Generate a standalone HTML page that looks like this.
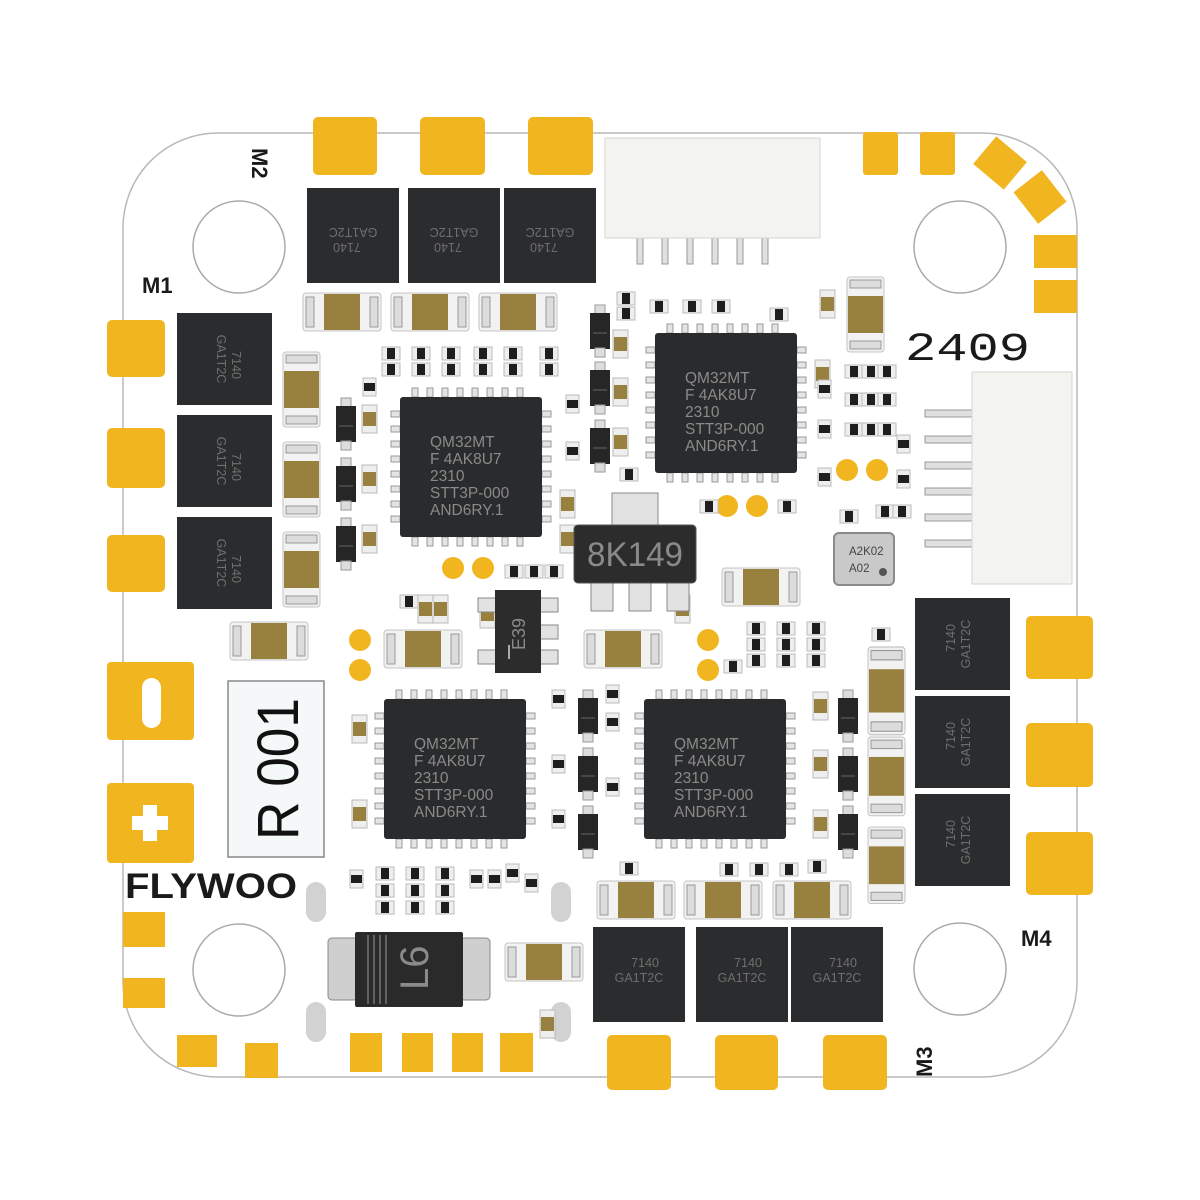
<!DOCTYPE html>
<html><head><meta charset="utf-8"><style>html,body{margin:0;padding:0;background:#fff}svg{display:block}</style></head>
<body>
<svg width="1200" height="1200" viewBox="0 0 1200 1200" xmlns="http://www.w3.org/2000/svg" font-family="Liberation Sans, sans-serif">
<defs>
<g id="capH"><rect x="0" y="0" width="78" height="38" rx="3" fill="#f2f2f2" stroke="#c4c4c4"/><rect x="3" y="4" width="8" height="30" fill="#dcdcdc" stroke="#9a9a9a"/><rect x="67" y="4" width="8" height="30" fill="#dcdcdc" stroke="#9a9a9a"/><rect x="21" y="1" width="36" height="36" fill="#98803f"/></g>
<g id="capV"><rect x="0" y="0" width="37" height="75" rx="3" fill="#f2f2f2" stroke="#c4c4c4"/><rect x="3" y="3" width="31" height="8" fill="#dcdcdc" stroke="#9a9a9a"/><rect x="3" y="64" width="31" height="8" fill="#dcdcdc" stroke="#9a9a9a"/><rect x="1" y="19" width="35" height="37" fill="#98803f"/></g>
<g id="r"><rect x="0" y="0" width="18" height="13" fill="#eee" stroke="#bbb"/><rect x="5" y="1" width="8" height="11" fill="#1e1e1e"/></g>
<g id="rv"><rect x="0" y="0" width="13" height="18" fill="#eee" stroke="#bbb"/><rect x="1" y="5" width="11" height="8" fill="#1e1e1e"/></g>
<g id="sc"><rect x="0" y="0" width="15" height="28" fill="#eee" stroke="#bbb"/><rect x="1" y="7" width="13" height="14" fill="#98803f"/></g>
<g id="d"><rect x="5" y="0" width="10" height="9" fill="#ddd" stroke="#999"/><rect x="0" y="8" width="20" height="36" fill="#262626"/><rect x="5" y="43" width="10" height="9" fill="#ddd" stroke="#999"/><line x1="3" y1="28" x2="17" y2="28" stroke="#666"/></g>
<g id="mcu">
<g fill="#e4e4e4" stroke="#999" stroke-width="1">
<rect x="12" y="-9" width="6" height="9"/><rect x="27" y="-9" width="6" height="9"/><rect x="42" y="-9" width="6" height="9"/><rect x="57" y="-9" width="6" height="9"/><rect x="72" y="-9" width="6" height="9"/><rect x="87" y="-9" width="6" height="9"/><rect x="102" y="-9" width="6" height="9"/><rect x="117" y="-9" width="6" height="9"/>
<rect x="12" y="140" width="6" height="9"/><rect x="27" y="140" width="6" height="9"/><rect x="42" y="140" width="6" height="9"/><rect x="57" y="140" width="6" height="9"/><rect x="72" y="140" width="6" height="9"/><rect x="87" y="140" width="6" height="9"/><rect x="102" y="140" width="6" height="9"/><rect x="117" y="140" width="6" height="9"/>
<rect x="-9" y="14" width="9" height="6"/><rect x="-9" y="29" width="9" height="6"/><rect x="-9" y="44" width="9" height="6"/><rect x="-9" y="59" width="9" height="6"/><rect x="-9" y="74" width="9" height="6"/><rect x="-9" y="89" width="9" height="6"/><rect x="-9" y="104" width="9" height="6"/><rect x="-9" y="119" width="9" height="6"/>
<rect x="142" y="14" width="9" height="6"/><rect x="142" y="29" width="9" height="6"/><rect x="142" y="44" width="9" height="6"/><rect x="142" y="59" width="9" height="6"/><rect x="142" y="74" width="9" height="6"/><rect x="142" y="89" width="9" height="6"/><rect x="142" y="104" width="9" height="6"/><rect x="142" y="119" width="9" height="6"/>
</g>
<rect x="0" y="0" width="142" height="140" rx="3" fill="#2a2b2d"/>
<g fill="#8a8a8a" font-size="15.5">
<text x="30" y="50">QM32MT</text><text x="30" y="67">F 4AK8U7</text><text x="30" y="84">2310</text><text x="30" y="101">STT3P-000</text><text x="30" y="118">AND6RY.1</text>
</g>
</g>
<g id="mos"><rect x="0" y="0" width="92" height="95" fill="#2b2c2e"/><g fill="#6e6e6e" font-size="12.5" text-anchor="middle"><text x="52" y="40">7140</text><text x="46" y="55">GA1T2C</text></g></g>
</defs>

<rect x="123" y="133" width="954" height="944" rx="95" fill="#fff" stroke="#b8b8b8" stroke-width="1.5"/>

<g fill="#fff" stroke="#aaa" stroke-width="1.5">
<circle cx="239" cy="247" r="46"/><circle cx="960" cy="247" r="46"/><circle cx="239" cy="970" r="46"/><circle cx="960" cy="969" r="46"/>
</g>

<g fill="#f1b520">
<rect x="313" y="117" width="64" height="58" rx="5"/><rect x="420" y="117" width="65" height="58" rx="5"/><rect x="528" y="117" width="65" height="58" rx="5"/>
<rect x="863" y="132" width="35" height="43" rx="3"/><rect x="920" y="132" width="35" height="43" rx="3"/>
<rect x="-20" y="-18" width="40" height="36" transform="translate(1000,163) rotate(40)"/>
<rect x="-20" y="-18" width="40" height="36" transform="translate(1040,197) rotate(52)"/>
<rect x="1034" y="235" width="43" height="33"/><rect x="1034" y="280" width="43" height="33"/>
<rect x="107" y="320" width="58" height="57" rx="5"/><rect x="107" y="428" width="58" height="60" rx="5"/><rect x="107" y="535" width="58" height="57" rx="5"/>
<rect x="107" y="662" width="87" height="78" rx="4"/><rect x="107" y="783" width="87" height="80" rx="4"/>
<rect x="123" y="912" width="42" height="35"/><rect x="123" y="978" width="42" height="30"/>
<rect x="177" y="1035" width="40" height="32"/><rect x="245" y="1043" width="33" height="35"/>
<rect x="350" y="1033" width="32" height="39"/><rect x="402" y="1033" width="31" height="39"/><rect x="452" y="1033" width="31" height="39"/><rect x="500" y="1033" width="33" height="39"/>
<rect x="607" y="1035" width="64" height="55" rx="5"/><rect x="715" y="1035" width="63" height="55" rx="5"/><rect x="823" y="1035" width="64" height="55" rx="5"/>
<rect x="1026" y="616" width="67" height="63" rx="5"/><rect x="1026" y="723" width="67" height="64" rx="5"/><rect x="1026" y="832" width="67" height="63" rx="5"/>
</g>
<rect x="142" y="678" width="19" height="50" rx="9.5" fill="#fff"/>
<path d="M143 805h14v11h11v14h-11v11h-14v-11h-11v-14h11z" fill="#fff"/>
<g fill="#f1b520"><circle cx="360" cy="640" r="11"/><circle cx="360" cy="670" r="11"/><circle cx="453" cy="568" r="11"/><circle cx="483" cy="568" r="11"/><circle cx="727" cy="506" r="11"/><circle cx="757" cy="506" r="11"/><circle cx="847" cy="470" r="11"/><circle cx="877" cy="470" r="11"/><circle cx="708" cy="640" r="11"/><circle cx="708" cy="670" r="11"/></g>

<g fill="#d2d2d2"><rect x="306" y="882" width="20" height="40" rx="10"/><rect x="551" y="882" width="20" height="40" rx="10"/><rect x="306" y="1002" width="20" height="40" rx="10"/><rect x="551" y="1002" width="20" height="40" rx="10"/></g>

<g fill="#e0e0e0" stroke="#999"><rect x="637" y="238" width="6" height="26"/><rect x="662" y="238" width="6" height="26"/><rect x="687" y="238" width="6" height="26"/><rect x="712" y="238" width="6" height="26"/><rect x="737" y="238" width="6" height="26"/><rect x="762" y="238" width="6" height="26"/></g>
<rect x="605" y="138" width="215" height="100" fill="#f3f3ef" stroke="#d6d6d2"/>
<g fill="#e0e0e0" stroke="#999"><rect x="925" y="410" width="50" height="7"/><rect x="925" y="436" width="50" height="7"/><rect x="925" y="462" width="50" height="7"/><rect x="925" y="488" width="50" height="7"/><rect x="925" y="514" width="50" height="7"/><rect x="925" y="540" width="50" height="7"/></g>
<rect x="972" y="372" width="100" height="212" fill="#f3f3ef" stroke="#d6d6d2"/>

<g transform="translate(307,188) rotate(180,46,47.5)"><use href="#mos"/></g>
<g transform="translate(408,188) rotate(180,46,47.5)"><use href="#mos"/></g>
<g transform="translate(504,188) rotate(180,46,47.5)"><use href="#mos"/></g>
<g transform="translate(177,313) rotate(90,47.5,47.5)"><use href="#mos"/></g>
<g transform="translate(177,415) rotate(90,47.5,47.5)"><use href="#mos"/></g>
<g transform="translate(177,517) rotate(90,47.5,47.5)"><use href="#mos"/></g>
<g transform="translate(915,597) rotate(-90,46.5,46.5)"><use href="#mos"/></g>
<g transform="translate(915,695) rotate(-90,46.5,46.5)"><use href="#mos"/></g>
<g transform="translate(915,793) rotate(-90,46.5,46.5)"><use href="#mos"/></g>
<use href="#mos" x="593" y="927"/><use href="#mos" x="696" y="927"/><use href="#mos" x="791" y="927"/>

<use href="#mcu" x="400" y="397"/><use href="#mcu" x="655" y="333"/><use href="#mcu" x="384" y="699"/><use href="#mcu" x="644" y="699"/>

<use href="#capH" x="303" y="293"/><use href="#capH" x="391" y="293"/><use href="#capH" x="479" y="293"/>
<use href="#capV" x="283" y="352"/><use href="#capV" x="283" y="442"/><use href="#capV" x="283" y="532"/>
<use href="#capV" x="847" y="277"/>
<g transform="translate(868,647) scale(1,1.17)"><use href="#capV"/></g>
<g transform="translate(868,737) scale(1,1.05)"><use href="#capV"/></g>
<g transform="translate(868,827) scale(1,1.02)"><use href="#capV"/></g>
<use href="#capH" x="597" y="881"/><use href="#capH" x="684" y="881"/><use href="#capH" x="773" y="881"/>
<use href="#capH" x="230" y="622"/><use href="#capH" x="384" y="630"/><use href="#capH" x="722" y="568"/><use href="#capH" x="584" y="630"/><use href="#capH" x="505" y="943"/>

<use href="#d" x="336" y="398"/><use href="#d" x="336" y="458"/><use href="#d" x="336" y="518"/>
<use href="#d" x="590" y="305"/><use href="#d" x="590" y="362"/><use href="#d" x="590" y="420"/>
<use href="#d" x="578" y="690"/><use href="#d" x="578" y="748"/><use href="#d" x="578" y="806"/>
<use href="#d" x="838" y="690"/><use href="#d" x="838" y="748"/><use href="#d" x="838" y="806"/>

<use href="#sc" x="362" y="405"/><use href="#sc" x="362" y="465"/><use href="#sc" x="362" y="525"/>
<use href="#sc" x="613" y="330"/><use href="#sc" x="613" y="378"/><use href="#sc" x="613" y="428"/>
<use href="#sc" x="813" y="692"/><use href="#sc" x="813" y="750"/><use href="#sc" x="813" y="810"/>
<use href="#sc" x="820" y="290"/><use href="#sc" x="560" y="490"/><use href="#sc" x="560" y="525"/>
<use href="#sc" x="418" y="595"/><use href="#sc" x="433" y="595"/><use href="#sc" x="480" y="600"/>
<use href="#sc" x="352" y="715"/><use href="#sc" x="352" y="800"/><use href="#sc" x="675" y="595"/>
<use href="#sc" x="540" y="1010"/><use href="#sc" x="815" y="360"/>

<g>
<use href="#r" x="382" y="347"/><use href="#r" x="412" y="347"/><use href="#r" x="442" y="347"/><use href="#r" x="474" y="347"/><use href="#r" x="504" y="347"/><use href="#r" x="540" y="347"/>
<use href="#r" x="382" y="363"/><use href="#r" x="412" y="363"/><use href="#r" x="442" y="363"/><use href="#r" x="474" y="363"/><use href="#r" x="504" y="363"/><use href="#r" x="540" y="363"/>
<use href="#rv" x="363" y="378"/><use href="#rv" x="566" y="395"/><use href="#rv" x="566" y="442"/>
<use href="#r" x="617" y="292"/><use href="#r" x="617" y="307"/><use href="#r" x="650" y="300"/><use href="#r" x="683" y="300"/><use href="#r" x="712" y="300"/><use href="#r" x="770" y="308"/>
<use href="#r" x="620" y="468"/><use href="#r" x="700" y="500"/><use href="#r" x="778" y="500"/>
<use href="#rv" x="818" y="380"/><use href="#rv" x="818" y="420"/><use href="#rv" x="818" y="468"/>
<use href="#r" x="845" y="365"/><use href="#r" x="862" y="365"/><use href="#r" x="878" y="365"/>
<use href="#r" x="845" y="393"/><use href="#r" x="862" y="393"/><use href="#r" x="878" y="393"/>
<use href="#r" x="845" y="423"/><use href="#r" x="862" y="423"/><use href="#r" x="878" y="423"/>
<use href="#rv" x="897" y="435"/><use href="#rv" x="897" y="470"/><use href="#r" x="876" y="505"/><use href="#r" x="893" y="505"/><use href="#r" x="840" y="510"/>
<use href="#r" x="505" y="565"/><use href="#r" x="525" y="565"/><use href="#r" x="545" y="565"/>
<use href="#r" x="400" y="595"/><use href="#r" x="747" y="622"/><use href="#r" x="777" y="622"/><use href="#r" x="807" y="622"/>
<use href="#r" x="747" y="638"/><use href="#r" x="777" y="638"/><use href="#r" x="807" y="638"/>
<use href="#r" x="747" y="654"/><use href="#r" x="777" y="654"/><use href="#r" x="807" y="654"/>
<use href="#r" x="872" y="628"/><use href="#r" x="724" y="660"/><use href="#rv" x="606" y="685"/><use href="#rv" x="606" y="713"/><use href="#rv" x="606" y="778"/>
<use href="#rv" x="552" y="690"/><use href="#rv" x="552" y="755"/><use href="#rv" x="552" y="810"/>
<use href="#r" x="808" y="860"/><use href="#r" x="720" y="863"/><use href="#r" x="750" y="863"/><use href="#r" x="780" y="863"/><use href="#r" x="620" y="862"/>
<use href="#rv" x="350" y="870"/><use href="#r" x="376" y="867"/><use href="#r" x="406" y="867"/><use href="#r" x="436" y="867"/>
<use href="#r" x="376" y="884"/><use href="#r" x="406" y="884"/><use href="#r" x="436" y="884"/>
<use href="#r" x="376" y="901"/><use href="#r" x="406" y="901"/><use href="#r" x="436" y="901"/>
<use href="#rv" x="470" y="870"/><use href="#rv" x="488" y="870"/><use href="#rv" x="506" y="864"/><use href="#rv" x="525" y="874"/>
</g>

<rect x="612" y="493" width="46" height="34" fill="#e2e2e2" stroke="#888"/>
<g fill="#e2e2e2" stroke="#888"><rect x="591" y="581" width="22" height="30"/><rect x="629" y="581" width="22" height="30"/><rect x="667" y="581" width="22" height="30"/></g>
<rect x="574" y="525" width="122" height="58" rx="4" fill="#2c2c2c" stroke="#555"/>
<text x="635" y="566" font-size="34" fill="#8a8a8a" text-anchor="middle" textLength="96" lengthAdjust="spacingAndGlyphs">8K149</text>

<g fill="#e2e2e2" stroke="#888"><rect x="478" y="598" width="18" height="14"/><rect x="478" y="650" width="18" height="14"/><rect x="540" y="598" width="18" height="14"/><rect x="540" y="625" width="18" height="14"/><rect x="540" y="650" width="18" height="14"/></g>
<rect x="495" y="590" width="46" height="83" fill="#2c2c2c"/>
<text transform="translate(525,650) rotate(-90)" font-size="18" fill="#8a8a8a">E39</text>
<rect x="508" y="645" width="2" height="14" fill="#aaa"/>

<rect x="834" y="533" width="60" height="52" rx="5" fill="#c9c9c9" stroke="#8a8a8a" stroke-width="2"/>
<text x="849" y="555" font-size="11.5" fill="#444">A2K02</text><text x="849" y="572" font-size="11.5" fill="#444">A02</text>
<circle cx="883" cy="572" r="4" fill="#555"/>

<rect x="328" y="938" width="30" height="62" rx="4" fill="#cfcfcf" stroke="#888"/>
<rect x="460" y="938" width="30" height="62" rx="4" fill="#cfcfcf" stroke="#888"/>
<rect x="355" y="932" width="108" height="75" rx="2" fill="#2a2a2a"/>
<g stroke="#888" stroke-width="1.2"><line x1="368" y1="935" x2="368" y2="1004"/><line x1="374" y1="935" x2="374" y2="1004"/><line x1="380" y1="935" x2="380" y2="1004"/><line x1="386" y1="935" x2="386" y2="1004"/></g>
<text transform="translate(428,990) rotate(-90)" font-size="40" fill="#8a8a8a">L6</text>

<rect x="228" y="681" width="96" height="176" fill="#f5f8f9" stroke="#888" stroke-width="1.5"/>
<text transform="translate(298,840) rotate(-90)" font-size="58" fill="#111" textLength="142" lengthAdjust="spacingAndGlyphs">R 001</text>

<text x="125" y="898" font-size="35" font-weight="bold" fill="#1a1a1a" textLength="172" lengthAdjust="spacingAndGlyphs">FLYWOO</text>
<text x="142" y="293" font-size="22" font-weight="bold" fill="#1a1a1a">M1</text>
<text transform="translate(252,148) rotate(90)" font-size="22" font-weight="bold" fill="#1a1a1a">M2</text>
<text x="1021" y="946" font-size="22" font-weight="bold" fill="#1a1a1a">M4</text>
<text transform="translate(932,1077) rotate(-90)" font-size="22" font-weight="bold" fill="#1a1a1a">M3</text>
<text x="905" y="360" font-family="Liberation Mono, monospace" font-size="40" fill="#1a1a1a" textLength="125" lengthAdjust="spacingAndGlyphs">2409</text>
</svg>
</body></html>
